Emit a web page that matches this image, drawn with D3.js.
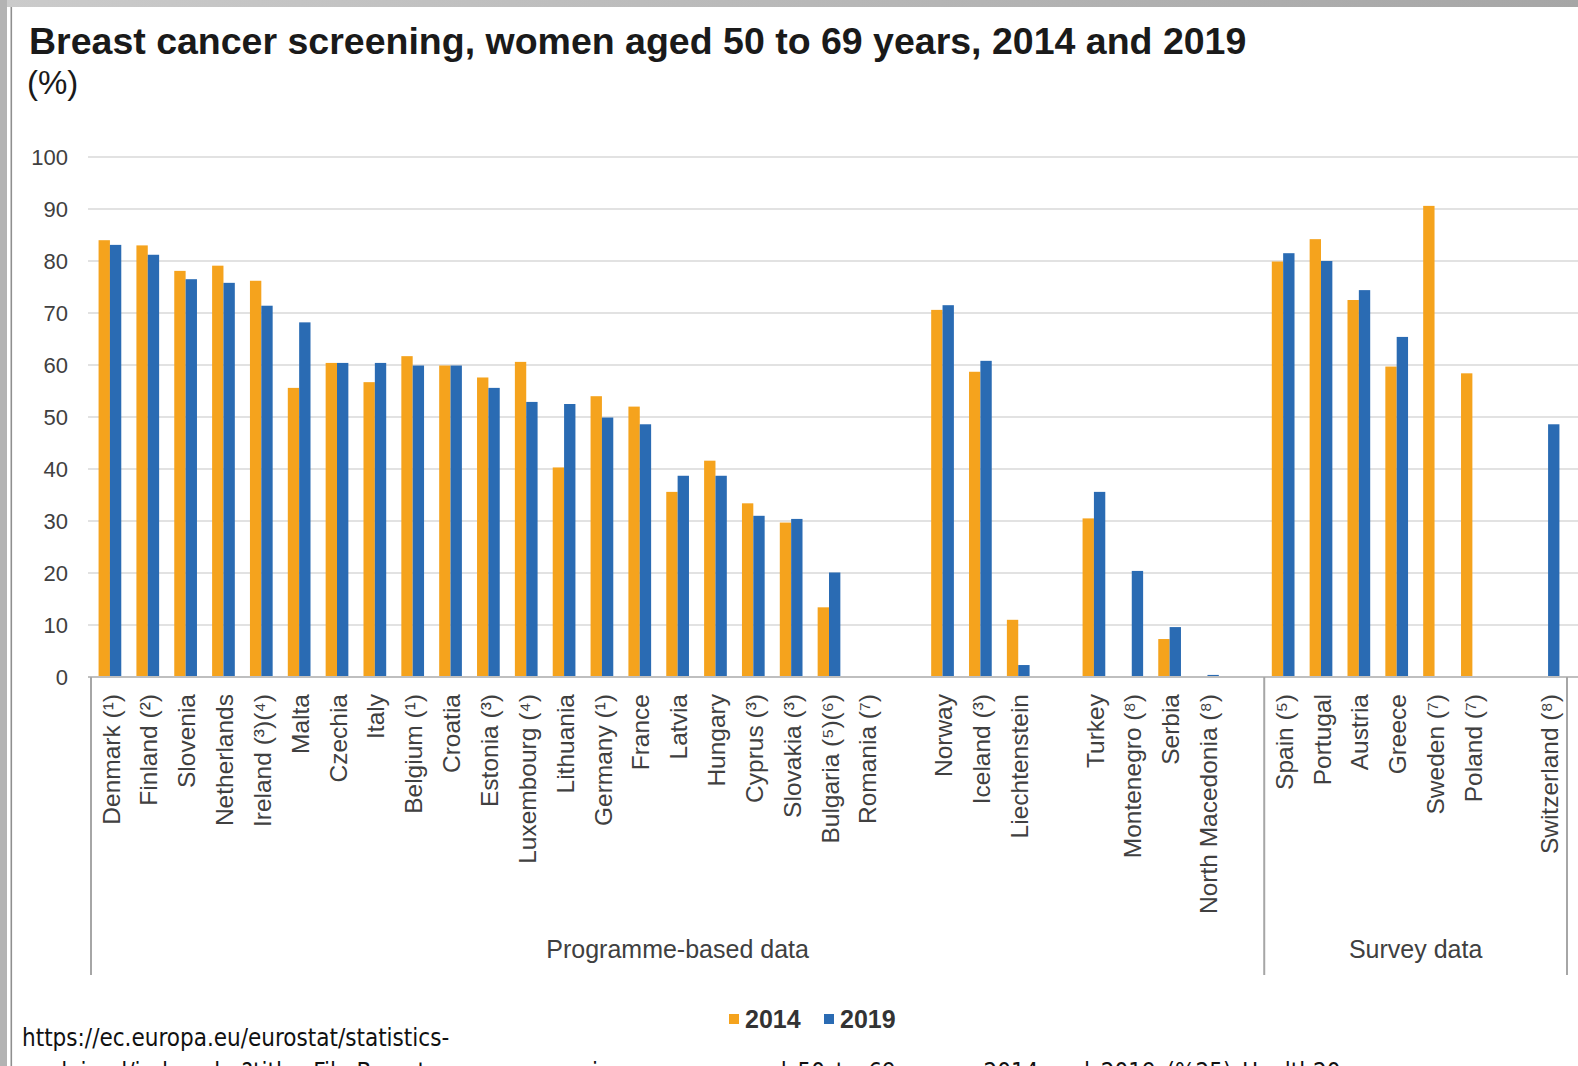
<!DOCTYPE html>
<html>
<head>
<meta charset="utf-8">
<script src="https://cdn.jsdelivr.net/npm/d3@7"></script>
<style>
  html, body { margin: 0; padding: 0; background: #fff; }
  svg { display: block; }
</style>
</head>
<body>
<script>
// categories, blanks ("") are the empty slots between country groups
const categories = ["Denmark (¹)", "Finland (²)", "Slovenia", "Netherlands", "Ireland (³)(⁴)", "Malta",
    "Czechia", "Italy", "Belgium (¹)", "Croatia", "Estonia (³)", "Luxembourg (⁴)", "Lithuania",
    "Germany (¹)", "France", "Latvia", "Hungary", "Cyprus (³)", "Slovakia (³)", "Bulgaria (⁵)(⁶)",
    "Romania (⁷)", "", "Norway", "Iceland (³)", "Liechtenstein", "", "Turkey", "Montenegro (⁸)",
    "Serbia", "North Macedonia (⁸)", "",
    "Spain (⁵)", "Portugal", "Austria", "Greece", "Sweden (⁷)", "Poland (⁷)", "", "Switzerland (⁸)"];

const values2014 = [84.0, 83.0, 78.1, 79.1, 76.2, 55.6, 60.4, 56.7, 61.7, 59.9, 57.6, 60.6, 40.3,
    54.0, 52.0, 35.6, 41.6, 33.4, 29.7, 13.4, null, null, 70.6, 58.7, 11.0, null, 30.5, null,
    7.3, null, null, 79.9, 84.2, 72.5, 59.7, 90.6, 58.4, null, null];

const values2019 = [83.1, 81.2, 76.5, 75.8, 71.4, 68.2, 60.4, 60.4, 59.9, 59.9, 55.6, 52.9, 52.5,
    49.9, 48.6, 38.7, 38.7, 31.0, 30.4, 20.1, null, null, 71.5, 60.8, 2.3, null, 35.6, 20.4,
    9.6, 0.4, null, 81.5, 80.0, 74.4, 65.4, null, null, null, 48.6];

const seriesNames = ["2014", "2019"];
const yTicks = [0, 10, 20, 30, 40, 50, 60, 70, 80, 90, 100];

// category groups: [label, first index, last index]
const groups = [["Programme-based data", 0, 30], ["Survey data", 31, 38]];

const colors = { "2014": "#F5A31D", "2019": "#2A6BB3" };

const width = 1578;
const height = 1066;
const font = "'Liberation Sans', Arial, sans-serif";

const svg = d3.select("body").append("svg")
    .attr("width", width)
    .attr("height", height);

// frame of the screenshot
const grad = svg.append("defs").append("linearGradient").attr("id", "topband");
grad.append("stop").attr("offset", "0%").attr("stop-color", "#cbcbcb");
grad.append("stop").attr("offset", "100%").attr("stop-color", "#a6a6a6");
svg.append("rect").attr("x", 0).attr("y", 0).attr("width", width).attr("height", 7).attr("fill", "url(#topband)");
svg.append("rect").attr("x", 0).attr("y", 0).attr("width", 7).attr("height", height).attr("fill", "#b3b3b3");
svg.append("rect").attr("x", 10.5).attr("y", 7).attr("width", 1.6).attr("height", height).attr("fill", "#8f8f8f");

// title
svg.append("text")
    .attr("x", 29).attr("y", 54)
    .style("font-family", font).style("font-weight", "bold").style("font-size", "37.5px")
    .attr("fill", "#1a1a1a")
    .text("Breast cancer screening, women aged 50 to 69 years, 2014 and 2019");

svg.append("text")
    .attr("x", 27).attr("y", 94)
    .style("font-family", font).style("font-size", "33px")
    .attr("fill", "#1a1a1a")
    .text("(%)");

const plot = { left: 91, right: 1567, top: 157, bottom: 677 };

const x0 = d3.scaleBand()
    .domain(d3.range(categories.length))
    .range([plot.left, plot.right])
    .paddingInner(0.4)
    .paddingOuter(0.2);

const x1 = d3.scaleBand()
    .domain(seriesNames)
    .range([0, x0.bandwidth()]);

const y = d3.scaleLinear()
    .domain([0, 100])
    .range([plot.bottom, plot.top]);

// gridlines
svg.append("g")
    .selectAll("line")
    .data(yTicks.filter(d => d > 0))
    .enter()
    .append("line")
    .attr("x1", 88).attr("x2", width)
    .attr("y1", d => y(d)).attr("y2", d => y(d))
    .style("stroke", "#d9d9d9")
    .style("stroke-width", 1.5);

// y axis labels
const yAxis = svg.append("g")
    .attr("transform", `translate(${plot.left - 8},0)`)
    .call(d3.axisLeft(y).tickValues(yTicks).tickSize(0).tickPadding(15));
yAxis.select(".domain").remove();
yAxis.selectAll("text")
    .style("font-family", font).style("font-size", "22px")
    .attr("fill", "#404040");

// bars
const barData = [];
categories.forEach((c, i) => {
    [values2014[i], values2019[i]].forEach((v, j) => {
        if (v !== null) barData.push({ i: i, series: seriesNames[j], value: v });
    });
});

svg.append("g")
    .selectAll("rect")
    .data(barData)
    .enter()
    .append("rect")
    .attr("x", d => x0(d.i) + x1(d.series))
    .attr("y", d => y(d.value))
    .attr("width", x1.bandwidth())
    .attr("height", d => y(0) - y(d.value))
    .attr("fill", d => colors[d.series]);

// x axis line
svg.append("line")
    .attr("x1", 88).attr("x2", width)
    .attr("y1", plot.bottom).attr("y2", plot.bottom)
    .style("stroke", "#bfbfbf")
    .style("stroke-width", 2);

// category labels, rotated
svg.append("g")
    .selectAll("text")
    .data(categories.map((c, i) => ({ name: c, i: i })).filter(d => d.name !== ""))
    .enter()
    .append("text")
    .attr("transform", d => `translate(${x0(d.i) + x0.bandwidth() / 2 + 1},${plot.bottom + 17}) rotate(-90)`)
    .attr("text-anchor", "end")
    .attr("dy", "0.35em")
    .style("font-family", font).style("font-size", "24.5px")
    .attr("fill", "#404040")
    .text(d => d.name);

// group separators and labels
const edge = i => plot.left + i * x0.step();
const boundaries = [edge(0), edge(groups[1][1]), edge(categories.length)];

svg.append("g")
    .selectAll("line")
    .data(boundaries)
    .enter()
    .append("line")
    .attr("x1", d => d).attr("x2", d => d)
    .attr("y1", plot.bottom).attr("y2", 975)
    .style("stroke", "#a6a6a6")
    .style("stroke-width", 2);

svg.append("g")
    .selectAll("text")
    .data(groups)
    .enter()
    .append("text")
    .attr("x", d => (edge(d[1]) + edge(d[2] + 1)) / 2)
    .attr("y", 958)
    .attr("text-anchor", "middle")
    .style("font-family", font).style("font-size", "25px")
    .attr("fill", "#404040")
    .text(d => d[0]);

// legend
const legend = svg.append("g").attr("transform", "translate(729,1019)");
const legendItems = legend.selectAll("g")
    .data(seriesNames)
    .enter()
    .append("g")
    .attr("transform", (d, i) => `translate(${i * 95},0)`);
legendItems.append("rect")
    .attr("x", 0).attr("y", -5)
    .attr("width", 10).attr("height", 10)
    .attr("fill", d => colors[d]);
legendItems.append("text")
    .attr("x", 16).attr("dy", "0.36em")
    .style("font-family", font).style("font-size", "25px").style("font-weight", "bold")
    .attr("fill", "#333")
    .text(d => d);

// source url (second line is cut by the bottom edge, as in the screenshot)
const urlFont = "'Liberation Sans Narrow', 'DejaVu Sans Condensed', 'Roboto Condensed', sans-serif";
svg.append("text")
    .attr("x", 22).attr("y", 1046)
    .style("font-family", urlFont).style("font-size", "24px").style("font-stretch", "condensed")
    .attr("fill", "#111")
    .text("https://ec.europa.eu/eurostat/statistics-");
svg.append("text")
    .attr("x", 22).attr("y", 1080)
    .style("font-family", urlFont).style("font-size", "24px").style("font-stretch", "condensed")
    .attr("fill", "#111")
    .text("explained/index.php?title=File:Breast_cancer_screening,_women_aged_50_to_69_years,_2014_and_2019_(%25)_Health20.png");
</script>
</body>
</html>
